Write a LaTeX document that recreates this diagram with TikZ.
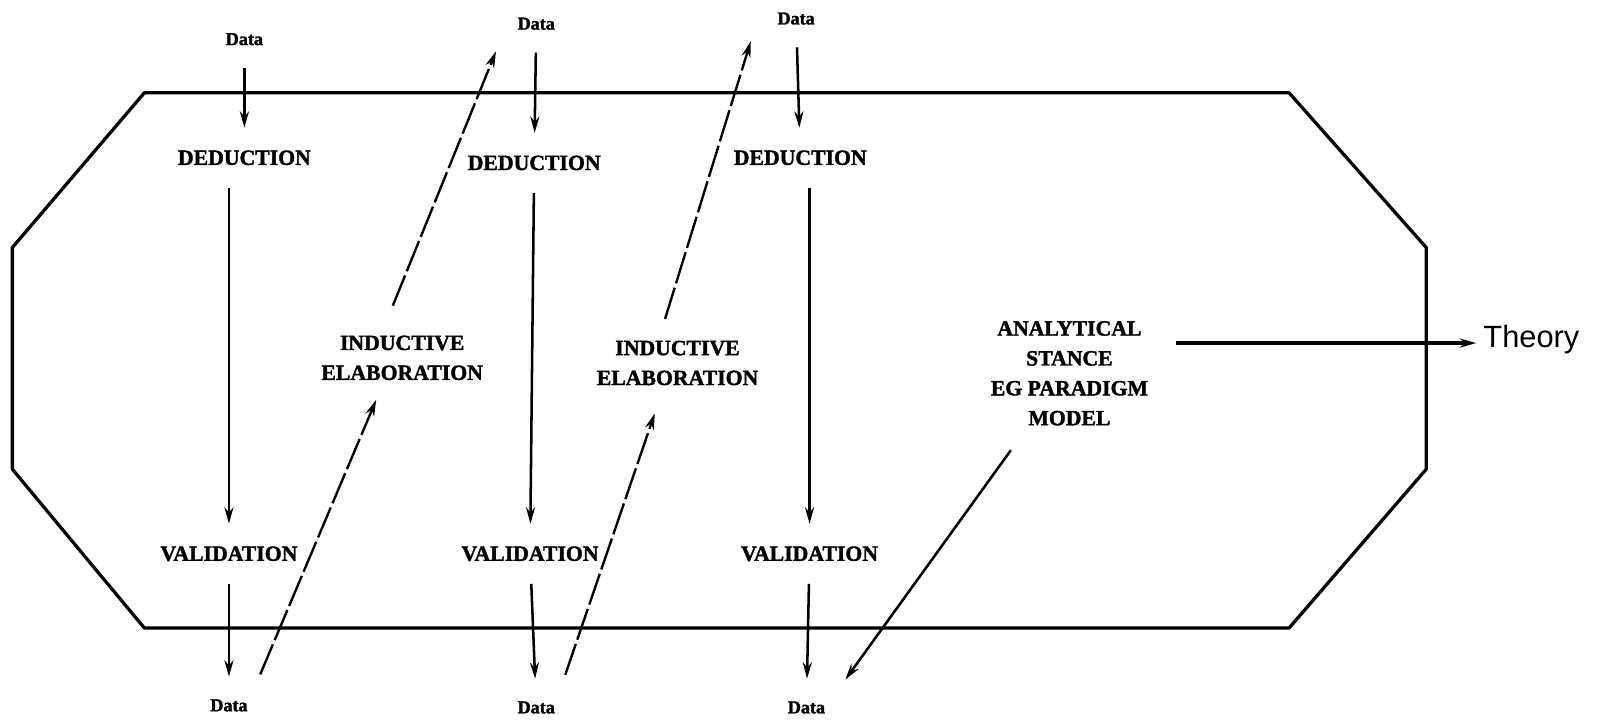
\documentclass[tikz,border=0pt]{standalone}
\usepackage{fontspec}
\setmainfont{Liberation Serif}[BoldFeatures={FakeBold=1.6}]
\newfontfamily\theoryfont{Liberation Sans}
\usetikzlibrary{arrows.meta}
\begin{document}
\begin{tikzpicture}[
    x=0.02cm, y=-0.02cm,
    >={Stealth[length=9pt,width=5pt]},
    stage/.style={font=\bfseries\fontsize{12}{16.5}\selectfont, align=center, inner sep=1pt},
    data/.style={font=\bfseries\fontsize{10}{12}\selectfont, inner sep=1pt},
    flow/.style={->, line width=1.4pt, shorten <=0.4cm, shorten >=0.4cm},
    induct/.style={->, line width=1.3pt, dash pattern=on 18pt off 2.5pt},
    frame/.style={line width=1.8pt, line join=round}
  ]
  \useasboundingbox (0,0) rectangle (1568,699);
  % outer octagon
  \draw[frame] (140,90) -- (1250,90) -- (1383,240) -- (1383,455) -- (1250,609)
    -- (140,609) -- (12,455) -- (12,240) -- cycle;

  % first cycle
  \node[data] (dt1) at (237,38) {Data};
  \node[stage] (ded1) at (237,153) {DEDUCTION};
  \node[stage] (val1) at (222,537) {VALIDATION};
  \node[data] (db1) at (222,684) {Data};
  \node[stage] (ind1) at (390,347) {INDUCTIVE\\ELABORATION};

  % second cycle
  \node[data] (dt2) at (520,23) {Data};
  \node[stage] (ded2) at (518,158) {DEDUCTION};
  \node[stage] (val2) at (514,537) {VALIDATION};
  \node[data] (db2) at (520,686) {Data};
  \node[stage] (ind2) at (657,352) {INDUCTIVE\\ELABORATION};

  % third cycle
  \node[data] (dt3) at (772,18) {Data};
  \node[stage] (ded3) at (776,153) {DEDUCTION};
  \node[stage] (val3) at (785,537) {VALIDATION};
  \node[data] (db3) at (782,686) {Data};

  \node[stage] (ana) at (1037,362) {ANALYTICAL\\STANCE\\EG PARADIGM\\MODEL};
  \node[font=\theoryfont\fontsize{17}{20}\selectfont, inner sep=1pt] (theory) at (1485,329) {Theory};

  \draw[flow] (dt1) -- (ded1);
  \draw[flow] (val1 |- ded1.south) -- (val1);
  \draw[flow] (val1) -- (db1);
  \draw[induct, shorten <=0.48cm, shorten >=0.37cm] ([xshift=0.42cm]db1.north) -- ([xshift=-0.36cm]ind1.south);
  \draw[induct, shorten <=0.58cm, shorten >=0.58cm] ([xshift=-0.4cm]ind1.north) -- ([xshift=-0.16cm]dt2.west);

  \draw[flow] (dt2) -- (ded2);
  \draw[flow] (ded2) -- (val2);
  \draw[flow] (val2) -- (db2);
  \draw[induct, shorten <=0.5cm, shorten >=0.53cm] ([xshift=0.4cm]db2.north) -- ([xshift=-0.27cm]ind2.south);
  \draw[induct, shorten <=0.4cm, shorten >=0.46cm] ([xshift=-0.36cm]ind2.north) -- ([xshift=-0.34cm]dt3.west);

  \draw[flow] (dt3) -- (ded3);
  \draw[flow] (val3 |- ded3.south) -- (val3);
  \draw[flow] (val3) -- (db3);

  \draw[->, line width=1.4pt, shorten <=0.54cm, shorten >=0.47cm] ([xshift=-0.82cm]ana.south) -- ([xshift=0.48cm]db3.north);
  \draw[->, line width=1.8pt, shorten <=0.5cm, shorten >=0.1cm] (ana.east |- theory.mid west) -- (theory.mid west);
\end{tikzpicture}
\end{document}
